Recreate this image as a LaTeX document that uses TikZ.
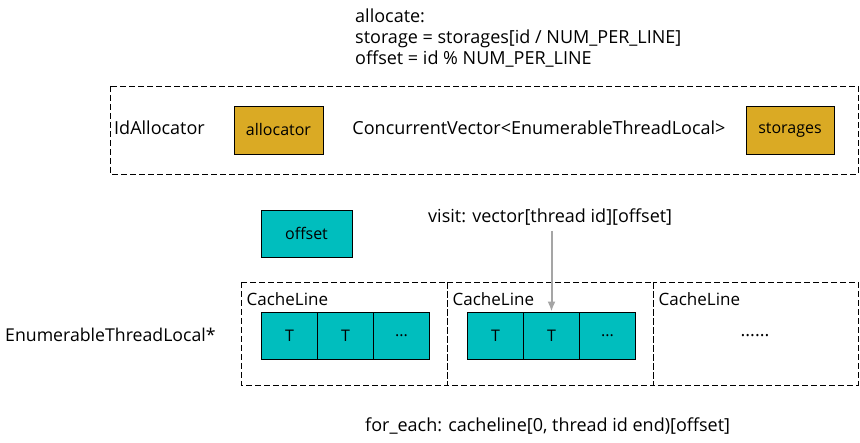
\documentclass[tikz,border=0pt]{standalone}
\usepackage{fontspec}
\setmainfont{Open Sans}
\usetikzlibrary{arrows.meta}
\begin{document}
\begin{tikzpicture}[x=1pt,y=-1pt,
  txt/.style={inner sep=0pt, font=\fontsize{18}{21}\selectfont},
  clfont/.style={font=\fontsize{17}{19}\selectfont},
  boxfont/.style={font=\fontsize{16}{18}\selectfont},
  goldbox/.style={draw=black, fill=gold, line width=0.8pt, boxfont},
  tealbox/.style={draw=black, fill=tealc, line width=0.8pt, boxfont},
  cell/.style={tealbox, minimum width=56pt, minimum height=47pt},
  dbox/.style={draw=black, line width=0.8pt, dash pattern=on 6pt off 3pt},
]
\definecolor{gold}{RGB}{218,170,36}
\definecolor{tealc}{RGB}{0,190,190}
\definecolor{arrowgray}{RGB}{165,165,165}
\useasboundingbox (0,0) rectangle (860,443);

% top text
\node[txt, anchor=base west] (alloc1) at (355,23) {allocate:};
\node[txt, anchor=base west] (alloc2) at (355,44) {storage = storages[id / NUM\_PER\_LINE]};
\node[txt, anchor=base west] (alloc3) at (355,65) {offset = id \% NUM\_PER\_LINE};

% IdAllocator box
\draw[dbox] (110,86) rectangle (858,174);
\node[txt, anchor=base west] (idalloc) at (114,135) {IdAllocator};
\node[goldbox, minimum width=89pt, minimum height=48pt] (allocator) at (278.5,130) {allocator};
\node[txt, anchor=base] (cv) at (539,135) {ConcurrentVector<EnumerableThreadLocal>};
\node[goldbox, minimum width=88pt, minimum height=48pt] (storages) at (790,130) {storages};

% offset
\node[tealbox, minimum width=91pt, minimum height=47pt] (offset) at (306.5,233.5) {offset};

% visit
\node[txt, anchor=base west] (visit) at (428,223) {visit: vector[thread id][offset]};

% cache lines
\draw[dbox] (241,282) rectangle (447,385);
\draw[dbox] (447,282) rectangle (653,385);
\draw[dbox] (653,282) rectangle (858,385);
\node[txt, anchor=base west, clfont] (cl1) at (246.5,306) {CacheLine};
\node[txt, anchor=base west, clfont] (cl2) at (452.5,306) {CacheLine};
\node[txt, anchor=base west, clfont] (cl3) at (658.5,306) {CacheLine};

\node[cell] (a1) at (289.5,335.5) {T};
\node[cell] (a2) at (345.5,335.5) {T};
\node[cell] (a3) at (401.5,335.5) {...};
\node[cell] (b1) at (495.5,335.5) {T};
\node[cell] (b2) at (551.5,335.5) {T};
\node[cell] (b3) at (607.5,335.5) {...};
\node[txt] (dots) at (755,336) {......};

\node[txt, anchor=base west, font=\fontsize{17.7}{20}\selectfont] (etl) at (5,342) {EnumerableThreadLocal*};

\coordinate (arrstart) at (551.5,231);
\draw[arrowgray, line width=2pt, -{Latex[length=10pt,width=8pt]}] (arrstart) -- (b2.north);

\node[txt, anchor=base west] (foreach) at (365,432) {for\_each: cacheline[0, thread id end)[offset]};
\end{tikzpicture}
\end{document}
